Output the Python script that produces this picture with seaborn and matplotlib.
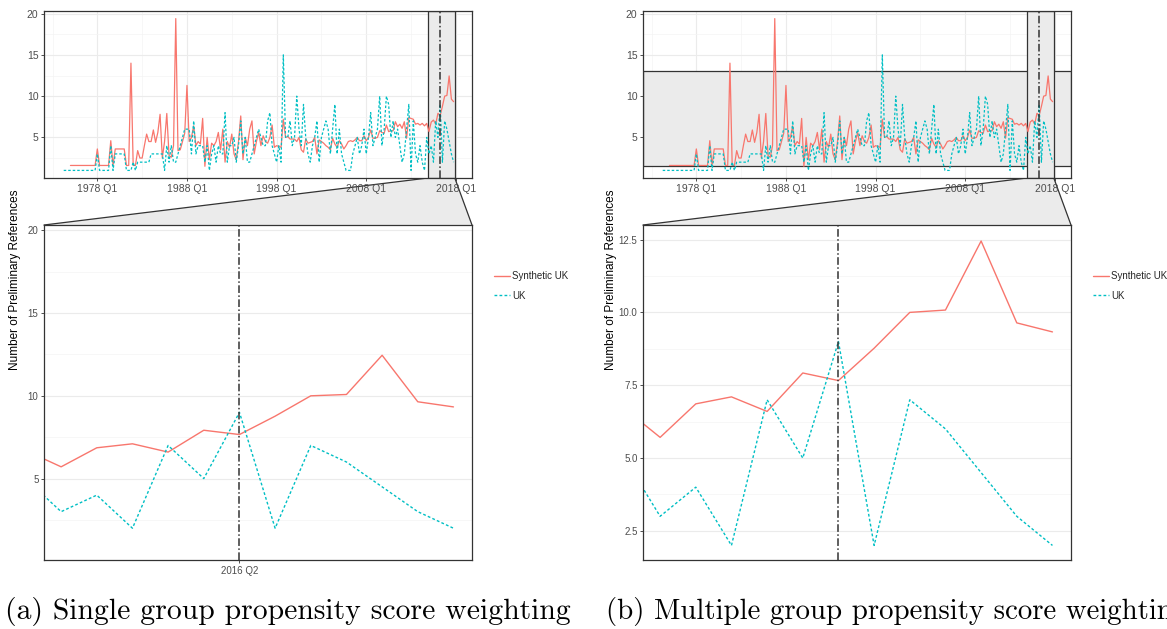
import matplotlib
matplotlib.use("Agg")
import numpy as np
import pandas as pd
import matplotlib.pyplot as plt
import seaborn as sns
from matplotlib.patches import Rectangle, Polygon
from matplotlib.lines import Line2D

# ---------------- data ----------------
uk_first_quarter = "1974Q2"
uk_values = [
    1, 1, 1,            # 1974
    1, 1, 1, 1,         # 1975
    1, 1, 1, 1,         # 1976
    1, 1, 1, 1,         # 1977
    3, 1, 1, 1,         # 1978
    1, 1, 4, 1,         # 1979
    3, 3, 3, 3,         # 1980
    3, 1, 1, 1,         # 1981
    2, 1, 2, 2,         # 1982
    2, 2, 2, 2,         # 1983
    3, 3, 3, 3,         # 1984
    3, 3, 1, 4,         # 1985
    2, 4, 2, 2,         # 1986
    3, 4, 5, 6,         # 1987
    6, 6, 3, 7,         # 1988
    3, 4, 4, 4,         # 1989
    2, 4, 1, 3,         # 1990
    4, 2, 4, 3,         # 1991
    3, 8, 2, 4,         # 1992
    4, 5, 2, 4,         # 1993
    7, 3, 5, 2,         # 1994
    2, 3, 4, 5,         # 1995
    6, 5, 4, 4,         # 1996
    7, 8, 4, 3,         # 1997
    2, 4, 2, 15,        # 1998
    5, 5, 7, 4,         # 1999
    5, 10, 6, 4,        # 2000
    9, 5, 3, 2,         # 2001
    4, 5, 7, 2,         # 2002
    5, 6, 7, 6,         # 2003
    3, 6, 9, 3,         # 2004
    6, 3, 2, 1,         # 2005
    1, 1, 3, 4,         # 2006
    5, 3, 4, 6,         # 2007
    3, 5, 8, 4,         # 2008
    5, 6, 10, 4,        # 2009
    6, 10, 9, 5,        # 2010
    7, 5, 6, 4,         # 2011
    2, 3, 6, 9,         # 2012
    1, 7, 3, 2,         # 2013
    4, 2, 1, 5,         # 2014
    3, 4, 2, 7,         # 2015
    5, 9, 2, 7,         # 2016
    6, 4.5, 3, 2,       # 2017
]

synth_first_quarter = "1975Q1"
synth_values = [
    1.6, 1.6, 1.6, 1.6,     # 1975
    1.6, 1.6, 1.6, 1.6,     # 1976
    1.6, 1.6, 1.6, 1.6,     # 1977
    3.6, 1.6, 1.6, 1.6,     # 1978
    1.6, 1.6, 4.6, 1.6,     # 1979
    3.6, 3.6, 3.6, 3.6,     # 1980
    3.6, 1.6, 1.6, 14.0,    # 1981
    1.6, 1.6, 3.4, 2.5,     # 1982
    2.5, 4.0, 5.4, 4.5,     # 1983
    4.5, 5.9, 4.4, 5.6,     # 1984
    7.8, 2.5, 4.5, 7.9,     # 1985
    2.8, 2.6, 4.0, 19.4,    # 1986
    3.4, 3.5, 4.5, 5.5,     # 1987
    11.3, 4.5, 5.0, 6.4,    # 1988
    4.0, 4.5, 4.2, 7.3,     # 1989
    1.5, 5.0, 2.3, 4.3,     # 1990
    4.0, 4.5, 5.6, 3.5,     # 1991
    6.0, 2.0, 4.5, 3.8,     # 1992
    5.4, 3.0, 2.3, 4.5,     # 1993
    7.6, 2.3, 5.0, 4.0,     # 1994
    6.0, 7.0, 3.0, 4.5,     # 1995
    5.6, 4.0, 5.2, 4.5,     # 1996
    4.3, 5.0, 6.5, 3.8,     # 1997
    4.0, 3.9, 3.8, 7.2,     # 1998
    5.0, 5.1, 4.8, 4.8,     # 1999
    4.8, 4.5, 5.0, 3.5,     # 2000
    3.2, 4.8, 4.3, 4.4,     # 2001
    4.5, 5.0, 3.0, 4.7,     # 2002
    4.5, 4.3, 4.0, 3.8,     # 2003
    3.5, 4.9, 4.2, 3.8,     # 2004
    4.6, 4.2, 3.6, 4.0,     # 2005
    4.5, 4.6, 4.5, 4.7,     # 2006
    5.0, 4.6, 4.6, 5.2,     # 2007
    4.6, 5.0, 5.9, 4.9,     # 2008
    4.9, 5.0, 5.8, 5.6,     # 2009
    5.5, 6.5, 5.7, 5.8,     # 2010
    5.8, 6.9, 6.3, 6.6,     # 2011
    6.1, 6.9, 4.9, 7.4,     # 2012
    7.3, 7.2, 6.6, 6.7,     # 2013
    6.5, 6.7, 6.4, 6.7,     # 2014
    5.71, 6.86, 7.10, 6.60, # 2015
    7.92, 7.66, 8.77, 10.0, # 2016
    10.08, 12.45, 9.64, 9.33,  # 2017
]

series_names = ["Synthetic UK", "UK"]
overview_tick_labels = ["1978 Q1", "1988 Q1", "1998 Q1", "2008 Q1", "2018 Q1"]
event_label = "2016 Q2"
zoom_window = (2014.88, 2017.88)
zoom_b_ylim = (1.5, 13.0)
captions = ["(a) Single group propensity score weighting",
            "(b) Multiple group propensity score weighting"]
y_title = "Number of Preliminary References"

# ---------------- helpers ----------------
def qnum(label):
    y, q = label.split(" Q")
    return int(y) + (int(q) - 1) / 4


def series_frame(first, values, name):
    per = pd.period_range(first, periods=len(values), freq="Q")
    return pd.DataFrame({"x": [p.year + (p.quarter - 1) / 4 for p in per],
                         "value": values, "series": name})


df = pd.concat([series_frame(synth_first_quarter, synth_values, series_names[0]),
                series_frame(uk_first_quarter, uk_values, series_names[1])],
               ignore_index=True)

sns.set_style("ticks")
plt.rcParams["font.family"] = ["Liberation Sans", "DejaVu Sans"]

palette = {"Synthetic UK": "#F8766D", "UK": "#00BFC4"}
dashes = {"Synthetic UK": "", "UK": (2, 1.6)}
EDGE = "#333333"
GRID = "#ebebeb"
GRID_MINOR = "#f4f4f4"
FILL = "#ebebeb"

W, H = 1167, 629
fig = plt.figure(figsize=(W / 100, H / 100), dpi=100)
fig.patch.set_facecolor("white")


def add_ax(l, t, r, b):
    return fig.add_axes([l / W, 1 - b / H, (r - l) / W, (b - t) / H])


def style_axes(ax, labelsize):
    for s in ax.spines.values():
        s.set_color(EDGE)
        s.set_linewidth(0.9)
    ax.tick_params(which="major", length=2.5, width=0.6, color=EDGE,
                   labelsize=labelsize, labelcolor="#4d4d4d", pad=1.5)
    ax.tick_params(which="minor", length=0)
    ax.set_axisbelow(True)
    ax.set_xlabel("")
    ax.set_ylabel("")


def draw_lines(ax, lw):
    sns.lineplot(data=df, x="x", y="value", hue="series", style="series",
                 palette=palette, dashes=dashes, estimator=None, sort=True,
                 legend=False, linewidth=lw, ax=ax)


overview_ylim = (0.08, 20.32)
overview_xlim = (1972.05, 2019.8)
event_x = qnum(event_label)
caption_x = [5, 606]
caption_size = [21.4, 20.8]

for i, offset in enumerate([0, 599]):
    L, R = 44 + offset, 472 + offset
    ov = add_ax(L, 11, R, 178)
    zm = add_ax(L, 225, R, 560)

    # ---- overview ----
    draw_lines(ov, 0.9)
    ov.set_xlim(*overview_xlim)
    ov.set_ylim(*overview_ylim)
    ov.set_xticks([qnum(t) for t in overview_tick_labels])
    ov.set_xticklabels(overview_tick_labels)
    ov.set_xticks([1973, 1983, 1993, 2003, 2013], minor=True)
    ov.set_yticks([5, 10, 15, 20])
    ov.set_yticks([2.5, 7.5, 12.5, 17.5], minor=True)
    ov.grid(which="major", color=GRID, lw=0.8)
    ov.grid(which="minor", color=GRID_MINOR, lw=0.5)
    style_axes(ov, 7.5)
    if i == 1:
        ov.add_patch(Rectangle((overview_xlim[0], zoom_b_ylim[0]),
                               overview_xlim[1] - overview_xlim[0],
                               zoom_b_ylim[1] - zoom_b_ylim[0],
                               facecolor=FILL, edgecolor=EDGE, lw=0.9, zorder=1))
    ov.add_patch(Rectangle((zoom_window[0], overview_ylim[0]),
                           zoom_window[1] - zoom_window[0],
                           overview_ylim[1] - overview_ylim[0],
                           facecolor=FILL, edgecolor=EDGE, lw=0.9, zorder=1.1))
    ov.axvline(event_x, color=EDGE, lw=1.1, linestyle=(0, (5, 1.6, 1, 1.6)), zorder=3)

    # ---- zoom ----
    draw_lines(zm, 1.0)
    zm.set_xlim(*zoom_window)
    if i == 0:
        zm.set_ylim(*overview_ylim)
        zm.set_yticks([5, 10, 15, 20])
        zm.set_yticks([2.5, 7.5, 12.5, 17.5], minor=True)
        zm.set_xticks([event_x])
        zm.set_xticklabels([event_label])
    else:
        zm.set_ylim(*zoom_b_ylim)
        zm.set_yticks([2.5, 5.0, 7.5, 10.0, 12.5])
        zm.set_yticklabels(["2.5", "5.0", "7.5", "10.0", "12.5"])
        zm.set_yticks([3.75, 6.25, 8.75, 11.25], minor=True)
        zm.set_xticks([])
    zm.grid(axis="y", which="major", color=GRID, lw=0.8)
    zm.grid(axis="y", which="minor", color=GRID_MINOR, lw=0.5)
    style_axes(zm, 7)
    zm.axvline(event_x, color=EDGE, lw=1.1, linestyle=(0, (5, 1.6, 1, 1.6)), zorder=3)

    # ---- connector trapezoid ----
    inv = fig.transFigure.inverted()
    p0 = inv.transform(ov.transData.transform((zoom_window[0], overview_ylim[0])))
    p1 = inv.transform(ov.transData.transform((zoom_window[1], overview_ylim[0])))
    zb = zm.get_position()
    q0 = (zb.x0, zb.y1)
    q1 = (zb.x1, zb.y1)
    fig.add_artist(Polygon([p0, p1, q1, q0], closed=True, facecolor=FILL,
                           edgecolor="none", transform=fig.transFigure, zorder=-1))
    fig.add_artist(Line2D([p0[0], q0[0]], [p0[1], q0[1]], color=EDGE, lw=0.9,
                          transform=fig.transFigure, zorder=-0.5))
    fig.add_artist(Line2D([p1[0], q1[0]], [p1[1], q1[1]], color=EDGE, lw=0.9,
                          transform=fig.transFigure, zorder=-0.5))

    # ---- legend ----
    handles = [Line2D([], [], color=palette[n], lw=1.0,
                      linestyle="-" if dashes[n] == "" else (0, dashes[n]))
               for n in series_names]
    fig.legend(handles, series_names, loc="center left",
               bbox_to_anchor=((494 + offset) / W, 1 - 286 / H),
               frameon=False, fontsize=7, handlelength=1.6, handletextpad=0.25,
               labelspacing=1.0, borderpad=0, borderaxespad=0)

    # ---- y title ----
    fig.text((15 + offset - 3 * i) / W, 1 - 280 / H, y_title, rotation=90,
             ha="center", va="center", fontsize=8.5, color="black")

    # ---- caption ----
    fig.text(caption_x[i] / W, 1 - 611 / H, captions[i], family="cmr10",
             fontsize=caption_size[i], ha="left", va="center", color="black")

fig.savefig("out.png", dpi=100)
